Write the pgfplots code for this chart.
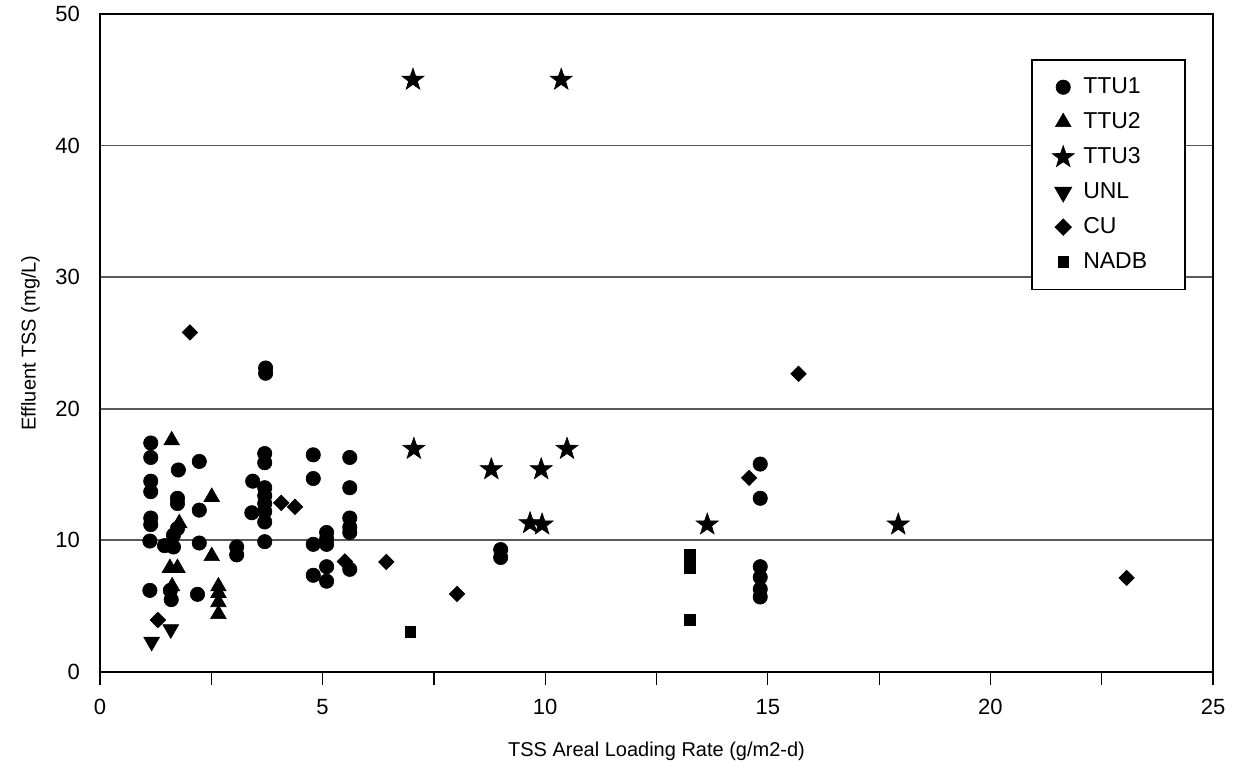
\documentclass[border=0pt]{standalone}
\usepackage{fontspec}
\setmainfont{Liberation Sans}
\usepackage{pgfplots}
\pgfplotsset{compat=1.18}
\pgfdeclareplotmark{fstar}{%
  \pgfpathmoveto{\pgfqpointpolar{90}{\pgfplotmarksize}}%
  \pgfpathlineto{\pgfqpointpolar{126}{0.40\pgfplotmarksize}}%
  \pgfpathlineto{\pgfqpointpolar{162}{\pgfplotmarksize}}%
  \pgfpathlineto{\pgfqpointpolar{198}{0.40\pgfplotmarksize}}%
  \pgfpathlineto{\pgfqpointpolar{234}{\pgfplotmarksize}}%
  \pgfpathlineto{\pgfqpointpolar{270}{0.40\pgfplotmarksize}}%
  \pgfpathlineto{\pgfqpointpolar{306}{\pgfplotmarksize}}%
  \pgfpathlineto{\pgfqpointpolar{342}{0.40\pgfplotmarksize}}%
  \pgfpathlineto{\pgfqpointpolar{18}{\pgfplotmarksize}}%
  \pgfpathlineto{\pgfqpointpolar{54}{0.40\pgfplotmarksize}}%
  \pgfpathclose
  \pgfusepathqfillstroke
}
\begin{document}
\begin{tikzpicture}
\begin{axis}[
  scale only axis, width=556.5pt, height=329pt,
  xmin=0, xmax=25, ymin=0, ymax=50,
  xtick={0,5,...,25}, minor xtick={2.5,7.5,12.5,17.5,22.5},
  ytick={0,10,...,50},
  xtick pos=left, ytick pos=left,
  tick align=outside,
  major tick length=6.5pt, minor tick length=6.5pt,
  xtick style={black, line width=0.6pt},
  ytick style={draw=none},
  ymajorgrids,
  grid style={black!65, line width=0.9pt},
  axis line style={black, line width=1pt},
  tick label style={font=\fontsize{11}{13}\selectfont},
  xticklabel style={yshift=-3.5pt},
  /pgf/number format/assume math mode=true,
  xlabel={TSS Areal Loading Rate (g/m2-d)},
  ylabel={Effluent TSS (mg/L)},
  label style={font=\fontsize{10}{12}\selectfont},
  xlabel style={yshift=-7pt},
  ylabel style={yshift=1pt},
  legend cell align=left,
  legend style={at={(0.9757,0.9316)}, anchor=north east, draw=black, line width=0.8pt,
    fill=white, font=\fontsize{11.5}{13}\selectfont, row sep=4pt,
    inner xsep=10pt, inner ysep=7pt,
    /tikz/every odd column/.append style={column sep=2.5pt}},
  every axis plot/.append style={only marks, black, mark options={fill=black, draw=black, line width=0.3pt}},
]
\addplot[mark=*, mark size=3.6pt] coordinates {
(1.14,17.4) (1.14,16.3) (1.14,14.5) (1.14,13.7) (1.14,11.7) (1.14,11.2) (1.12,9.95) (1.12,6.2)
(1.76,15.35) (1.74,13.2) (1.74,12.8) (1.74,10.9) (1.65,10.4) (1.45,9.6) (1.65,9.5) (1.58,6.2) (1.60,5.5)
(2.23,16.0) (2.23,12.3) (2.23,9.8) (2.19,5.9) (3.07,9.5) (3.07,8.9)
(3.72,23.1) (3.72,22.7) (3.70,16.6) (3.70,15.9) (3.43,14.5) (3.70,14.0) (3.70,13.4) (3.70,12.8)
(3.41,12.1) (3.70,12.2) (3.70,11.4) (3.70,9.9)
(4.79,16.5) (4.79,14.7) (4.79,9.7) (4.79,7.35)
(5.09,10.6) (5.09,10.1) (5.09,9.7) (5.09,8.0) (5.09,6.9)
(5.61,16.3) (5.61,14.0) (5.61,11.7) (5.61,11.0) (5.61,10.6) (5.61,7.8)
(9.0,9.3) (9.0,8.7)
(14.83,15.8) (14.83,13.2) (14.83,8.0) (14.83,7.2) (14.83,6.3) (14.83,5.7)
};
\addlegendentry{TTU1}
\addplot[mark=triangle*, mark size=4.5pt] coordinates {
(1.61,17.6) (2.51,13.3) (1.78,11.3) (1.55,9.7) (2.51,8.8) (1.57,7.9) (1.74,7.9)
(1.62,6.5) (2.66,6.5) (2.66,6.0) (2.66,5.3) (2.66,4.4)
};
\addlegendentry{TTU2}
\addplot[mark=fstar, mark size=5.8pt] coordinates {
(7.03,45) (10.36,45) (7.05,16.95) (8.79,15.4) (9.91,15.4) (10.49,16.95)
(9.66,11.3) (9.93,11.2) (13.64,11.2) (17.93,11.2)
};
\addlegendentry{TTU3}
\addplot[mark=triangle*, mark size=4.5pt, mark options={rotate=180}] coordinates {
(1.16,2.3) (1.59,3.25)
};
\addlegendentry{UNL}
\addplot[mark=square*, mark size=2.7pt, mark options={rotate=45}] coordinates {
(2.02,25.8) (1.30,3.95) (4.07,12.85) (4.38,12.55) (5.50,8.4) (6.43,8.36) (8.02,5.93)
(14.58,14.75) (15.69,22.66) (23.06,7.15)
};
\addlegendentry{CU}
\addplot[mark=square*, mark size=2.7pt] coordinates {
(6.97,3.04) (13.24,3.95) (13.24,8.9) (13.24,8.4) (13.24,7.9)
};
\addlegendentry{NADB\hspace*{7pt}}
\coordinate (bbsw) at (rel axis cs:0,0);
\coordinate (bbne) at (rel axis cs:1,1);
\end{axis}
\pgfresetboundingbox
\useasboundingbox ([shift={(-50pt,-49.5pt)}]bbsw) rectangle ([shift={(13.5pt,7pt)}]bbne);
\end{tikzpicture}
\end{document}
